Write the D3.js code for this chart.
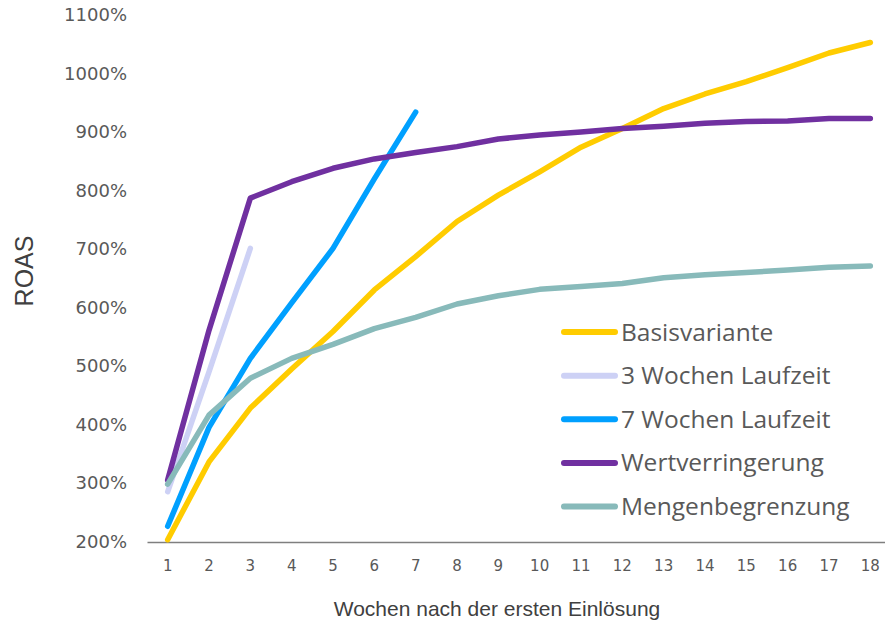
<!DOCTYPE html>
<html>
<head>
<meta charset="utf-8">
<script src="https://cdn.jsdelivr.net/npm/d3@7"></script>
<style>
  html, body { margin: 0; padding: 0; background: #ffffff; }
  svg { display: block; }
</style>
</head>
<body>
<svg id="chart" width="885" height="623"></svg>
<script>
// Weeks after first redemption (x categories)
const weeks = [1, 2, 3, 4, 5, 6, 7, 8, 9, 10, 11, 12, 13, 14, 15, 16, 17, 18];

// ROAS values in percent per variant
const basisvariante   = [203, 336, 428, 495, 559, 630, 687, 747, 792, 832, 874, 906, 940, 965, 986, 1010, 1035, 1053];
const dreiWochen      = [285, 490, 701];
const siebenWochen    = [226, 395, 513, 608, 701, 820, 934];
const wertverringerung = [305, 561, 787, 815, 838, 854, 865, 875, 888, 895, 900, 906, 910, 915, 918, 919, 923, 923];
const mengenbegrenzung = [298, 416, 479, 513, 537, 564, 583, 606, 620, 631, 636, 641, 651, 656, 660, 664, 669, 671];

// Series names and colours
const seriesNames  = ["Basisvariante", "3 Wochen Laufzeit", "7 Wochen Laufzeit", "Wertverringerung", "Mengenbegrenzung"];
const seriesColors = ["#FFCC00", "#CDD1F5", "#00A0FF", "#7030A0", "#88BABA"];
const seriesValues = [basisvariante, dreiWochen, siebenWochen, wertverringerung, mengenbegrenzung];

// Y axis ticks
const yTicks = [200, 300, 400, 500, 600, 700, 800, 900, 1000, 1100];

const svg = d3.select("#chart");

const x = d3.scaleBand().domain(weeks).range([147, 891]);
const xc = d => x(d) + x.bandwidth() / 2;
const y = d3.scaleLinear().domain([200, 1100]).range([541.5, 15]);

// X axis
const xAxis = svg.append("g")
  .attr("transform", "translate(0,542)")
  .call(d3.axisBottom(x).tickSize(0).tickPadding(18));
xAxis.select(".domain").attr("stroke", "#7f7f7f").attr("stroke-width", 1.4);
xAxis.selectAll("text")
  .attr("font-family", "'DejaVu Sans', sans-serif")
  .attr("font-size", 15)
  .attr("fill", "#595959");

// Y axis (labels only)
const yAxis = svg.append("g")
  .attr("transform", "translate(127,0)")
  .call(d3.axisLeft(y).tickValues(yTicks).tickSize(0).tickPadding(0).tickFormat(d => d + "%"));
yAxis.select(".domain").remove();
yAxis.selectAll("text")
  .attr("font-family", "'DejaVu Sans', sans-serif")
  .attr("font-size", 18)
  .attr("fill", "#595959");

// Axis titles
svg.append("text")
  .attr("transform", "translate(33,271) rotate(-90)")
  .attr("text-anchor", "middle")
  .attr("font-family", "'Liberation Sans', Arial, sans-serif")
  .attr("font-size", 25)
  .attr("fill", "#404040")
  .text("ROAS");

svg.append("text")
  .attr("x", 497)
  .attr("y", 616)
  .attr("text-anchor", "middle")
  .attr("font-family", "'Liberation Sans', Arial, sans-serif")
  .attr("font-size", 21)
  .attr("fill", "#404040")
  .text("Wochen nach der ersten Einlösung");

// Lines
const line = d3.line()
  .x((d, i) => xc(weeks[i]))
  .y(d => y(d));

svg.append("g").selectAll("path")
  .data(seriesValues)
  .join("path")
  .attr("d", d => line(d))
  .attr("fill", "none")
  .attr("stroke", (d, i) => seriesColors[i])
  .attr("stroke-width", 5.5)
  .attr("stroke-linecap", "round")
  .attr("stroke-linejoin", "round");

// Legend
const legend = svg.append("g");
const legendY = d3.scalePoint().domain(seriesNames).range([332, 506.5]);
const items = legend.selectAll("g")
  .data(seriesNames)
  .join("g")
  .attr("transform", d => `translate(0,${legendY(d)})`);
items.append("line")
  .attr("x1", 564).attr("x2", 615)
  .attr("y1", 0).attr("y2", 0)
  .attr("stroke", (d, i) => seriesColors[i])
  .attr("stroke-width", 6)
  .attr("stroke-linecap", "round");
items.append("text")
  .attr("x", 621)
  .attr("dy", "0.35em")
  .attr("font-family", "'Open Sans', 'Noto Sans', sans-serif")
  .attr("font-size", 24.5)
  .attr("fill", "#595959")
  .text(d => d);
</script>
</body>
</html>
